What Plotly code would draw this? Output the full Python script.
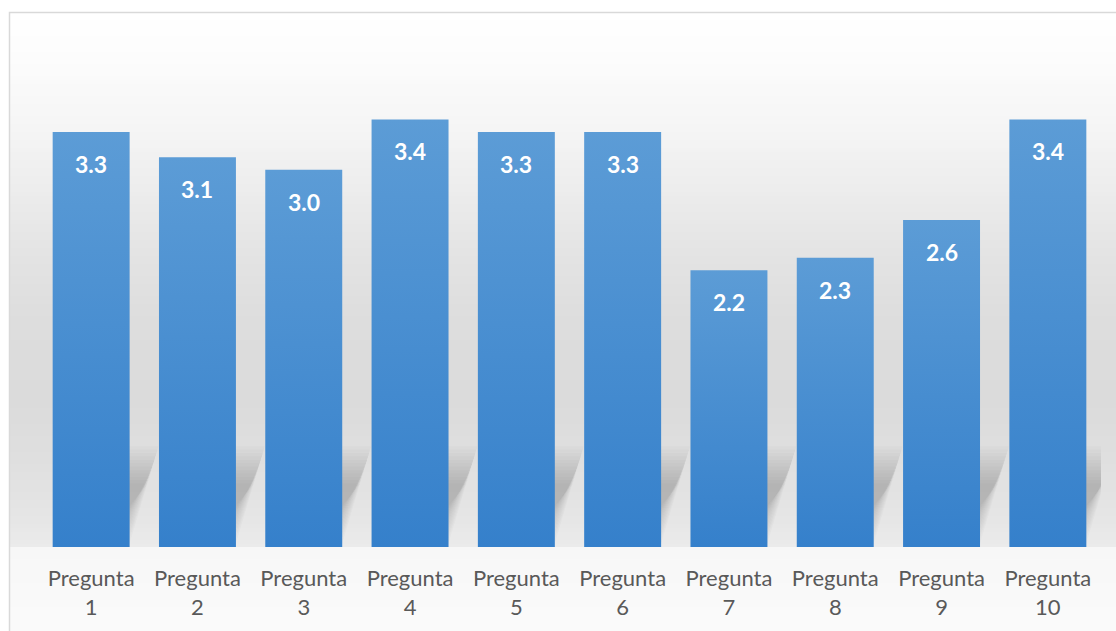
import plotly.graph_objects as go

# Data
categories = ["Pregunta 1", "Pregunta 2", "Pregunta 3", "Pregunta 4", "Pregunta 5",
              "Pregunta 6", "Pregunta 7", "Pregunta 8", "Pregunta 9", "Pregunta 10"]
values = [3.3, 3.1, 3.0, 3.4, 3.3, 3.3, 2.2, 2.3, 2.6, 3.4]
tick_text = [c.replace(" ", "<br>") for c in categories]

W, H = 1116, 631
M_L, M_R, M_T, M_B = 38, 15, 44, 84
PLOT_H = H - M_T - M_B
PLOT_W = W - M_L - M_R
BAR_W = 0.724
Y_MAX = 4.0

def py(px_y):
    """pixel row -> paper y"""
    return (H - M_B - px_y) / PLOT_H

def px(px_x):
    """pixel column -> paper x"""
    return (px_x - M_L) / PLOT_W

fig = go.Figure()

# soft reflection shadows behind the bars (stacked layers give a blurred edge)
SH_DX, SH_H = 0.27, 0.80
N_LAYERS = 12
for i, v in enumerate(values):
    xl, xr = i - BAR_W / 2, i + BAR_W / 2
    for k in range(N_LAYERS):
        ins = 0.009 * k
        fig.add_trace(go.Scatter(
            x=[xl + ins, xr - ins, xr + SH_DX - ins, xl + SH_DX + ins, xl + ins],
            y=[0.03 + ins * 2, 0.03 + ins * 2, SH_H - ins * 3, SH_H - ins * 3, 0.03 + ins * 2],
            mode="lines", fill="toself", line=dict(width=0),
            fillcolor="rgba(110,110,110,0.03)", hoverinfo="skip", showlegend=False))

# bars with vertical gradient
for i, v in enumerate(values):
    xl, xr = i - BAR_W / 2, i + BAR_W / 2
    fig.add_trace(go.Scatter(
        x=[xl, xl, xr, xr, xl], y=[0, v, v, 0, 0],
        mode="lines", fill="toself", line=dict(width=0),
        fillgradient=dict(type="vertical",
                          colorscale=[[0, "#3580cb"], [1, "#5c9cd6"]]),
        hovertemplate=f"{categories[i]}: {v:.1f}<extra></extra>",
        showlegend=False))
    fig.add_annotation(x=i, y=v, yanchor="top", yshift=-16, showarrow=False,
                       text=f"{v:.1f}",
                       font=dict(family="Lato", size=23, color="white",
                                 weight="bold"))

# background gradient strips
stops = [(12, 255), (60, 252), (120, 246), (180, 238), (250, 228), (320, 221),
         (400, 219), (460, 223), (520, 230), (547, 235)]
def gray_at(y):
    for (y0, g0), (y1, g1) in zip(stops, stops[1:]):
        if y0 <= y <= y1:
            t = (y - y0) / (y1 - y0)
            return g0 + (g1 - g0) * t
    return stops[-1][1]

shapes = []
step = 4
y = 12
while y < 547:
    y2 = min(y + step, 547)
    g = round(gray_at((y + y2) / 2))
    shapes.append(dict(type="rect", xref="paper", yref="paper", layer="below",
                       x0=px(9), x1=px(1125), y0=py(y2), y1=py(y),
                       fillcolor=f"rgb({g},{g},{g})", line=dict(width=0)))
    y = y2
y = 547
while y < 640:
    y2 = y + 6
    g = round(247 + 4 * (y - 547) / 93)
    shapes.append(dict(type="rect", xref="paper", yref="paper", layer="below",
                       x0=px(9), x1=px(1125), y0=py(y2), y1=py(y),
                       fillcolor=f"rgb({g},{g},{g})", line=dict(width=0)))
    y = y2
# chart border
shapes.append(dict(type="rect", xref="paper", yref="paper", layer="above",
                   x0=px(9.5), x1=px(1130), y0=py(650), y1=py(12.5),
                   fillcolor="rgba(0,0,0,0)", line=dict(color="#d9d9d9", width=1.5)))

fig.update_layout(
    width=W, height=H,
    margin=dict(l=M_L, r=M_R, t=M_T, b=M_B),
    paper_bgcolor="white", plot_bgcolor="rgba(0,0,0,0)",
    shapes=shapes,
    xaxis=dict(range=[-0.5, len(values) - 0.5], tickmode="array",
               tickvals=list(range(len(values))), ticktext=tick_text,
               showgrid=False, zeroline=False, showline=False,
               ticks="outside", ticklen=12, tickcolor="rgba(0,0,0,0)",
               tickfont=dict(family="Lato", size=22, color="#595959"),
               fixedrange=True),
    yaxis=dict(range=[0, Y_MAX], visible=False, fixedrange=True),
    showlegend=False,
)

fig.write_html("out.html")
